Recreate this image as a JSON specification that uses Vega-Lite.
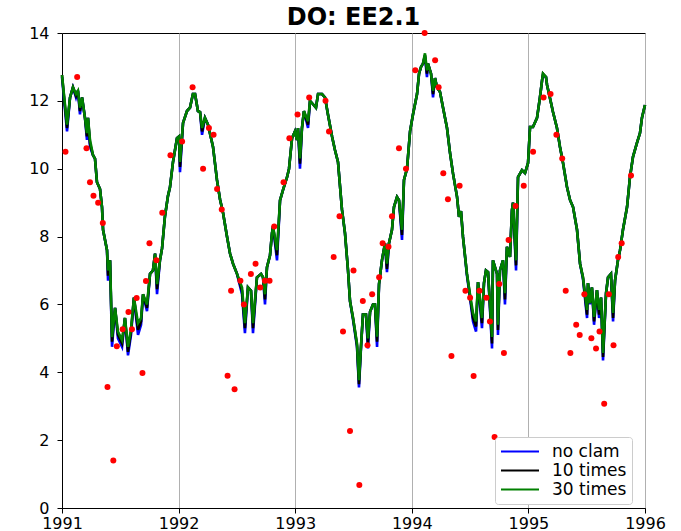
{
  "$schema": "https://vega.github.io/schema/vega-lite/v6.json",
  "width": 583,
  "height": 475,
  "autosize": {"type": "none"},
  "padding": {"left": 62, "top": 33, "right": 36, "bottom": 23},
  "background": "white",
  "title": {"text": "DO: EE2.1", "fontSize": 24, "fontWeight": "bold", "font": "DejaVu Sans", "color": "black", "offset": -5, "anchor": "middle"},
  "config": {
    "view": {"stroke": "black", "strokeWidth": 1},
    "axis": {"labelFont": "DejaVu Sans", "labelFontSize": 16, "labelColor": "black", "tickColor": "black", "domainColor": "black", "tickSize": 5, "title": null, "labelFlush": false},
    "legend": {"labelFont": "DejaVu Sans", "labelFontSize": 17, "labelColor": "black"}
  },
  "datasets": {
    "lines": [
      {"t":1991.000,"a":12.7,"b":12.76,"c":12.76},{"t":1991.043,"a":11.1,"b":11.2,"c":11.3},{"t":1991.069,"a":12.1,"b":12.1,"c":12.1},{"t":1991.094,"a":12.4,"b":12.4,"c":12.4},{"t":1991.120,"a":12.1,"b":12.15,"c":12.2},{"t":1991.137,"a":12.3,"b":12.3,"c":12.3},{"t":1991.154,"a":11.6,"b":11.7,"c":11.8},{"t":1991.172,"a":12.1,"b":12.1,"c":12.1},{"t":1991.197,"a":11.5,"b":11.5,"c":11.5},{"t":1991.214,"a":10.85,"b":10.95,"c":11.05},{"t":1991.223,"a":11.5,"b":11.5,"c":11.5},{"t":1991.240,"a":10.65,"b":10.75,"c":10.85},{"t":1991.266,"a":10.4,"b":10.4,"c":10.4},{"t":1991.283,"a":10.3,"b":10.3,"c":10.3},{"t":1991.300,"a":9.6,"b":9.6,"c":9.6},{"t":1991.326,"a":9.4,"b":9.4,"c":9.4},{"t":1991.343,"a":8.87,"b":8.87,"c":8.87},{"t":1991.352,"a":8.2,"b":8.2,"c":8.2},{"t":1991.386,"a":7.6,"b":7.6,"c":7.6},{"t":1991.395,"a":6.7,"b":6.85,"c":7.0},{"t":1991.412,"a":7.3,"b":7.3,"c":7.3},{"t":1991.429,"a":4.75,"b":4.9,"c":5.04},{"t":1991.455,"a":5.9,"b":5.9,"c":5.9},{"t":1991.480,"a":5.0,"b":5.1,"c":5.2},{"t":1991.515,"a":4.75,"b":4.85,"c":4.95},{"t":1991.540,"a":5.6,"b":5.6,"c":5.6},{"t":1991.566,"a":4.5,"b":4.6,"c":4.75},{"t":1991.592,"a":5.1,"b":5.2,"c":5.27},{"t":1991.617,"a":6.2,"b":6.2,"c":6.2},{"t":1991.652,"a":5.1,"b":5.25,"c":5.45},{"t":1991.678,"a":5.4,"b":5.5,"c":5.6},{"t":1991.695,"a":6.3,"b":6.3,"c":6.3},{"t":1991.729,"a":5.8,"b":5.9,"c":6.0},{"t":1991.755,"a":6.9,"b":6.9,"c":6.9},{"t":1991.780,"a":7.0,"b":7.0,"c":7.0},{"t":1991.798,"a":7.5,"b":7.5,"c":7.5},{"t":1991.815,"a":6.3,"b":6.45,"c":6.6},{"t":1991.840,"a":7.3,"b":7.3,"c":7.3},{"t":1991.858,"a":7.65,"b":7.65,"c":7.65},{"t":1991.883,"a":8.6,"b":8.6,"c":8.6},{"t":1991.909,"a":9.2,"b":9.2,"c":9.2},{"t":1991.926,"a":9.45,"b":9.45,"c":9.45},{"t":1991.952,"a":10.2,"b":10.2,"c":10.2},{"t":1991.986,"a":10.9,"b":10.9,"c":10.9},
      {"t":1992.003,"a":10.95,"b":10.95,"c":10.95},{"t":1992.012,"a":9.9,"b":10.05,"c":10.2},{"t":1992.038,"a":11.35,"b":11.35,"c":11.35},{"t":1992.072,"a":11.7,"b":11.7,"c":11.7},{"t":1992.098,"a":11.8,"b":11.8,"c":11.8},{"t":1992.123,"a":12.2,"b":12.2,"c":12.2},{"t":1992.141,"a":12.2,"b":12.2,"c":12.2},{"t":1992.166,"a":11.7,"b":11.7,"c":11.7},{"t":1992.184,"a":11.67,"b":11.67,"c":11.67},{"t":1992.201,"a":11.0,"b":11.1,"c":11.2},{"t":1992.226,"a":11.5,"b":11.5,"c":11.5},{"t":1992.252,"a":11.3,"b":11.3,"c":11.3},{"t":1992.295,"a":10.65,"b":10.65,"c":10.65},{"t":1992.329,"a":9.67,"b":9.67,"c":9.67},{"t":1992.355,"a":9.1,"b":9.1,"c":9.1},{"t":1992.381,"a":8.7,"b":8.7,"c":8.7},{"t":1992.415,"a":8.0,"b":8.0,"c":8.0},{"t":1992.441,"a":7.5,"b":7.5,"c":7.5},{"t":1992.467,"a":7.2,"b":7.2,"c":7.2},{"t":1992.501,"a":6.9,"b":6.9,"c":6.9},{"t":1992.544,"a":6.3,"b":6.4,"c":6.5},{"t":1992.569,"a":5.15,"b":5.3,"c":5.45},{"t":1992.595,"a":6.5,"b":6.5,"c":6.5},{"t":1992.621,"a":6.4,"b":6.4,"c":6.4},{"t":1992.638,"a":5.15,"b":5.3,"c":5.45},{"t":1992.672,"a":6.8,"b":6.8,"c":6.8},{"t":1992.707,"a":6.9,"b":6.9,"c":6.9},{"t":1992.724,"a":6.8,"b":6.8,"c":6.8},{"t":1992.741,"a":6.0,"b":6.15,"c":6.3},{"t":1992.758,"a":7.1,"b":7.1,"c":7.1},{"t":1992.784,"a":7.45,"b":7.45,"c":7.45},{"t":1992.801,"a":8.1,"b":8.1,"c":8.1},{"t":1992.810,"a":8.3,"b":8.3,"c":8.3},{"t":1992.844,"a":7.3,"b":7.45,"c":7.6},{"t":1992.870,"a":9.07,"b":9.07,"c":9.07},{"t":1992.895,"a":9.37,"b":9.37,"c":9.37},{"t":1992.930,"a":9.75,"b":9.75,"c":9.75},{"t":1992.947,"a":10.0,"b":10.0,"c":10.0},{"t":1992.973,"a":10.9,"b":10.9,"c":10.9},{"t":1992.998,"a":11.1,"b":11.1,"c":11.1},
      {"t":1993.015,"a":10.85,"b":10.85,"c":10.85},{"t":1993.024,"a":11.2,"b":11.2,"c":11.2},{"t":1993.041,"a":10.0,"b":10.15,"c":10.3},{"t":1993.058,"a":11.2,"b":11.2,"c":11.2},{"t":1993.075,"a":11.7,"b":11.7,"c":11.7},{"t":1993.110,"a":11.2,"b":11.3,"c":11.4},{"t":1993.127,"a":12.0,"b":12.0,"c":12.0},{"t":1993.153,"a":11.9,"b":11.9,"c":11.9},{"t":1993.178,"a":11.8,"b":11.8,"c":11.8},{"t":1993.196,"a":12.2,"b":12.2,"c":12.2},{"t":1993.230,"a":12.2,"b":12.2,"c":12.2},{"t":1993.256,"a":12.1,"b":12.1,"c":12.1},{"t":1993.281,"a":11.6,"b":11.6,"c":11.6},{"t":1993.316,"a":10.95,"b":10.95,"c":10.95},{"t":1993.341,"a":10.55,"b":10.55,"c":10.55},{"t":1993.367,"a":10.2,"b":10.2,"c":10.2},{"t":1993.401,"a":8.8,"b":8.8,"c":8.8},{"t":1993.427,"a":8.1,"b":8.1,"c":8.1},{"t":1993.453,"a":7.0,"b":7.0,"c":7.0},{"t":1993.470,"a":6.1,"b":6.1,"c":6.1},{"t":1993.496,"a":5.55,"b":5.6,"c":5.6},{"t":1993.530,"a":4.75,"b":4.8,"c":4.85},{"t":1993.547,"a":3.55,"b":3.65,"c":3.77},{"t":1993.564,"a":4.7,"b":4.75,"c":4.75},{"t":1993.581,"a":5.7,"b":5.7,"c":5.7},{"t":1993.607,"a":5.7,"b":5.7,"c":5.7},{"t":1993.624,"a":4.7,"b":4.85,"c":5.0},{"t":1993.642,"a":5.78,"b":5.78,"c":5.78},{"t":1993.667,"a":6.0,"b":6.0,"c":6.0},{"t":1993.684,"a":6.0,"b":6.0,"c":6.0},{"t":1993.702,"a":4.75,"b":4.9,"c":5.05},{"t":1993.719,"a":6.6,"b":6.6,"c":6.6},{"t":1993.744,"a":7.3,"b":7.3,"c":7.3},{"t":1993.770,"a":7.8,"b":7.8,"c":7.8},{"t":1993.787,"a":6.95,"b":7.05,"c":7.2},{"t":1993.804,"a":7.8,"b":7.8,"c":7.8},{"t":1993.830,"a":8.2,"b":8.2,"c":8.2},{"t":1993.847,"a":8.87,"b":8.87,"c":8.87},{"t":1993.873,"a":9.17,"b":9.17,"c":9.17},{"t":1993.890,"a":9.07,"b":9.07,"c":9.07},{"t":1993.916,"a":7.9,"b":8.05,"c":8.2},{"t":1993.933,"a":9.67,"b":9.67,"c":9.67},{"t":1993.959,"a":10.0,"b":10.0,"c":10.0},{"t":1993.985,"a":11.1,"b":11.1,"c":11.1},
      {"t":1994.010,"a":11.6,"b":11.6,"c":11.6},{"t":1994.045,"a":12.2,"b":12.2,"c":12.2},{"t":1994.062,"a":12.8,"b":12.8,"c":12.8},{"t":1994.079,"a":13.0,"b":13.0,"c":13.0},{"t":1994.096,"a":13.1,"b":13.1,"c":13.1},{"t":1994.113,"a":13.3,"b":13.35,"c":13.4},{"t":1994.130,"a":12.7,"b":12.8,"c":12.9},{"t":1994.139,"a":13.1,"b":13.1,"c":13.1},{"t":1994.165,"a":12.8,"b":12.8,"c":12.8},{"t":1994.182,"a":12.1,"b":12.2,"c":12.3},{"t":1994.199,"a":12.67,"b":12.67,"c":12.67},{"t":1994.216,"a":12.4,"b":12.4,"c":12.4},{"t":1994.242,"a":12.26,"b":12.26,"c":12.26},{"t":1994.268,"a":11.8,"b":11.8,"c":11.8},{"t":1994.302,"a":11.2,"b":11.2,"c":11.2},{"t":1994.328,"a":10.46,"b":10.46,"c":10.46},{"t":1994.353,"a":9.87,"b":9.87,"c":9.87},{"t":1994.388,"a":9.17,"b":9.17,"c":9.17},{"t":1994.405,"a":8.58,"b":8.58,"c":8.58},{"t":1994.422,"a":8.75,"b":8.75,"c":8.75},{"t":1994.439,"a":7.99,"b":7.99,"c":7.99},{"t":1994.473,"a":6.85,"b":6.9,"c":6.9},{"t":1994.499,"a":6.2,"b":6.25,"c":6.3},{"t":1994.525,"a":5.5,"b":5.6,"c":5.75},{"t":1994.551,"a":5.2,"b":5.35,"c":5.5},{"t":1994.568,"a":6.66,"b":6.66,"c":6.66},{"t":1994.602,"a":5.3,"b":5.45,"c":5.6},{"t":1994.619,"a":6.63,"b":6.63,"c":6.63},{"t":1994.636,"a":7.0,"b":7.0,"c":7.0},{"t":1994.654,"a":6.95,"b":6.95,"c":6.95},{"t":1994.688,"a":4.7,"b":4.85,"c":5.04},{"t":1994.696,"a":7.3,"b":7.3,"c":7.3},{"t":1994.731,"a":6.9,"b":6.9,"c":6.9},{"t":1994.739,"a":5.1,"b":5.25,"c":5.4},{"t":1994.756,"a":7.0,"b":7.0,"c":7.0},{"t":1994.782,"a":7.3,"b":7.3,"c":7.3},{"t":1994.799,"a":6.0,"b":6.15,"c":6.33},{"t":1994.816,"a":7.7,"b":7.7,"c":7.7},{"t":1994.842,"a":7.4,"b":7.4,"c":7.4},{"t":1994.859,"a":8.78,"b":8.78,"c":8.78},{"t":1994.868,"a":9.0,"b":9.0,"c":9.0},{"t":1994.894,"a":7.0,"b":7.15,"c":7.3},{"t":1994.911,"a":9.75,"b":9.75,"c":9.75},{"t":1994.945,"a":9.96,"b":9.96,"c":9.96},{"t":1994.971,"a":9.87,"b":9.87,"c":9.87},{"t":1994.997,"a":10.17,"b":10.17,"c":10.17},
      {"t":1995.014,"a":11.23,"b":11.23,"c":11.23},{"t":1995.039,"a":11.23,"b":11.23,"c":11.23},{"t":1995.074,"a":11.5,"b":11.5,"c":11.5},{"t":1995.099,"a":12.1,"b":12.1,"c":12.1},{"t":1995.117,"a":12.6,"b":12.6,"c":12.6},{"t":1995.125,"a":12.75,"b":12.8,"c":12.8},{"t":1995.151,"a":12.7,"b":12.7,"c":12.7},{"t":1995.160,"a":12.47,"b":12.47,"c":12.47},{"t":1995.185,"a":12.08,"b":12.08,"c":12.08},{"t":1995.211,"a":11.67,"b":11.67,"c":11.67},{"t":1995.245,"a":11.2,"b":11.2,"c":11.2},{"t":1995.271,"a":10.64,"b":10.64,"c":10.64},{"t":1995.297,"a":10.17,"b":10.17,"c":10.17},{"t":1995.331,"a":9.46,"b":9.46,"c":9.46},{"t":1995.357,"a":9.08,"b":9.08,"c":9.08},{"t":1995.383,"a":8.87,"b":8.87,"c":8.87},{"t":1995.417,"a":8.2,"b":8.2,"c":8.2},{"t":1995.443,"a":7.2,"b":7.2,"c":7.2},{"t":1995.468,"a":6.75,"b":6.8,"c":6.8},{"t":1995.503,"a":5.6,"b":5.7,"c":5.84},{"t":1995.511,"a":6.63,"b":6.63,"c":6.63},{"t":1995.528,"a":6.0,"b":6.04,"c":6.04},{"t":1995.545,"a":6.5,"b":6.5,"c":6.5},{"t":1995.563,"a":5.4,"b":5.5,"c":5.63},{"t":1995.588,"a":6.42,"b":6.42,"c":6.42},{"t":1995.606,"a":5.6,"b":5.7,"c":5.84},{"t":1995.623,"a":6.2,"b":6.2,"c":6.2},{"t":1995.640,"a":4.35,"b":4.45,"c":4.57},{"t":1995.666,"a":6.33,"b":6.33,"c":6.33},{"t":1995.683,"a":6.8,"b":6.8,"c":6.8},{"t":1995.708,"a":6.9,"b":6.9,"c":6.9},{"t":1995.726,"a":5.5,"b":5.6,"c":5.75},{"t":1995.743,"a":6.7,"b":6.7,"c":6.7},{"t":1995.768,"a":7.3,"b":7.3,"c":7.3},{"t":1995.786,"a":7.6,"b":7.6,"c":7.6},{"t":1995.811,"a":8.2,"b":8.2,"c":8.2},{"t":1995.846,"a":8.87,"b":8.87,"c":8.87},{"t":1995.871,"a":9.75,"b":9.75,"c":9.75},{"t":1995.897,"a":10.35,"b":10.35,"c":10.35},{"t":1995.931,"a":10.76,"b":10.76,"c":10.76},{"t":1995.957,"a":11.05,"b":11.05,"c":11.05},{"t":1995.974,"a":11.5,"b":11.5,"c":11.5},{"t":1996.000,"a":11.88,"b":11.88,"c":11.88}
    ],
    "obs": [
      {"t":1991.03,"v":10.5},{"t":1991.13,"v":12.7},{"t":1991.21,"v":10.6},{"t":1991.24,"v":9.6},{"t":1991.27,"v":9.2},{"t":1991.31,"v":9.0},{"t":1991.35,"v":8.4},{"t":1991.39,"v":3.57},{"t":1991.44,"v":1.4},{"t":1991.47,"v":4.77},{"t":1991.52,"v":5.27},{"t":1991.57,"v":5.78},{"t":1991.60,"v":5.27},{"t":1991.64,"v":6.19},{"t":1991.69,"v":3.98},{"t":1991.72,"v":6.69},{"t":1991.75,"v":7.8},{"t":1991.81,"v":7.3},{"t":1991.86,"v":8.7},{"t":1991.93,"v":10.4},
      {"t":1992.03,"v":10.8},{"t":1992.12,"v":12.4},{"t":1992.21,"v":10.0},{"t":1992.26,"v":11.2},{"t":1992.30,"v":11.0},{"t":1992.33,"v":9.4},{"t":1992.37,"v":8.8},{"t":1992.42,"v":3.9},{"t":1992.45,"v":6.4},{"t":1992.48,"v":3.5},{"t":1992.53,"v":6.7},{"t":1992.56,"v":6.0},{"t":1992.62,"v":6.9},{"t":1992.66,"v":7.2},{"t":1992.70,"v":6.5},{"t":1992.74,"v":6.7},{"t":1992.78,"v":6.7},{"t":1992.82,"v":8.3},{"t":1992.90,"v":9.6},{"t":1992.95,"v":10.9},
      {"t":1993.02,"v":11.6},{"t":1993.12,"v":12.1},{"t":1993.26,"v":12.0},{"t":1993.29,"v":11.1},{"t":1993.33,"v":7.4},{"t":1993.38,"v":8.6},{"t":1993.41,"v":5.2},{"t":1993.47,"v":2.27},{"t":1993.50,"v":7.0},{"t":1993.55,"v":0.68},{"t":1993.58,"v":6.1},{"t":1993.62,"v":4.8},{"t":1993.66,"v":6.3},{"t":1993.72,"v":6.8},{"t":1993.75,"v":7.8},{"t":1993.80,"v":7.7},{"t":1993.83,"v":8.6},{"t":1993.89,"v":10.6},{"t":1993.95,"v":10.0},
      {"t":1994.03,"v":12.9},{"t":1994.11,"v":14.0},{"t":1994.20,"v":13.2},{"t":1994.23,"v":12.4},{"t":1994.27,"v":9.87},{"t":1994.31,"v":9.1},{"t":1994.34,"v":4.48},{"t":1994.41,"v":9.5},{"t":1994.46,"v":6.4},{"t":1994.50,"v":6.2},{"t":1994.53,"v":3.89},{"t":1994.58,"v":6.4},{"t":1994.64,"v":6.2},{"t":1994.67,"v":5.5},{"t":1994.71,"v":2.09},{"t":1994.75,"v":6.6},{"t":1994.79,"v":4.57},{"t":1994.83,"v":7.9},{"t":1994.89,"v":8.9},{"t":1994.96,"v":9.5},
      {"t":1995.04,"v":10.5},{"t":1995.13,"v":12.1},{"t":1995.19,"v":12.2},{"t":1995.24,"v":11.0},{"t":1995.29,"v":10.3},{"t":1995.32,"v":6.4},{"t":1995.36,"v":4.57},{"t":1995.41,"v":5.4},{"t":1995.44,"v":5.1},{"t":1995.48,"v":6.3},{"t":1995.54,"v":5.0},{"t":1995.58,"v":4.7},{"t":1995.61,"v":5.2},{"t":1995.65,"v":3.07},{"t":1995.69,"v":6.3},{"t":1995.73,"v":4.8},{"t":1995.77,"v":7.4},{"t":1995.80,"v":7.8},{"t":1995.88,"v":9.8}
    ]
  },
  "layer": [
    {
      "data": {"name": "lines"},
      "mark": {"type": "line", "strokeWidth": 2.6},
      "encoding": {
        "x": {"field": "t", "type": "quantitative", "scale": {"domain": [1991, 1996], "nice": false, "zero": false}, "axis": {"values": [1991, 1992, 1993, 1994, 1995, 1996], "format": "d", "grid": true, "gridColor": "#b0b0b0", "gridWidth": 1, "labelPadding": 2}},
        "y": {"field": "a", "type": "quantitative", "scale": {"domain": [0, 14], "nice": false}, "axis": {"values": [0, 2, 4, 6, 8, 10, 12, 14], "grid": false, "labelPadding": 8}},
        "color": {"datum": "no clam", "type": "nominal", "scale": {"domain": ["no clam", "10 times", "30 times"], "range": ["blue", "black", "green"]},
          "legend": {"title": null, "orient": "none", "legendX": 433, "legendY": 404, "symbolType": "stroke", "symbolSize": 1444, "symbolStrokeWidth": 2, "labelOffset": 12, "padding": 5, "rowPadding": 0, "clipHeight": 19, "strokeColor": "#cccccc", "fillColor": "white", "cornerRadius": 3}}
      }
    },
    {
      "data": {"name": "lines"},
      "mark": {"type": "line", "strokeWidth": 2.6},
      "encoding": {
        "x": {"field": "t", "type": "quantitative"},
        "y": {"field": "b", "type": "quantitative"},
        "color": {"datum": "10 times", "type": "nominal"}
      }
    },
    {
      "data": {"name": "lines"},
      "mark": {"type": "line", "strokeWidth": 2.6},
      "encoding": {
        "x": {"field": "t", "type": "quantitative"},
        "y": {"field": "c", "type": "quantitative"},
        "color": {"datum": "30 times", "type": "nominal"}
      }
    },
    {
      "data": {"name": "obs"},
      "mark": {"type": "circle", "color": "red", "size": 36, "opacity": 1},
      "encoding": {
        "x": {"field": "t", "type": "quantitative"},
        "y": {"field": "v", "type": "quantitative"}
      }
    }
  ]
}
